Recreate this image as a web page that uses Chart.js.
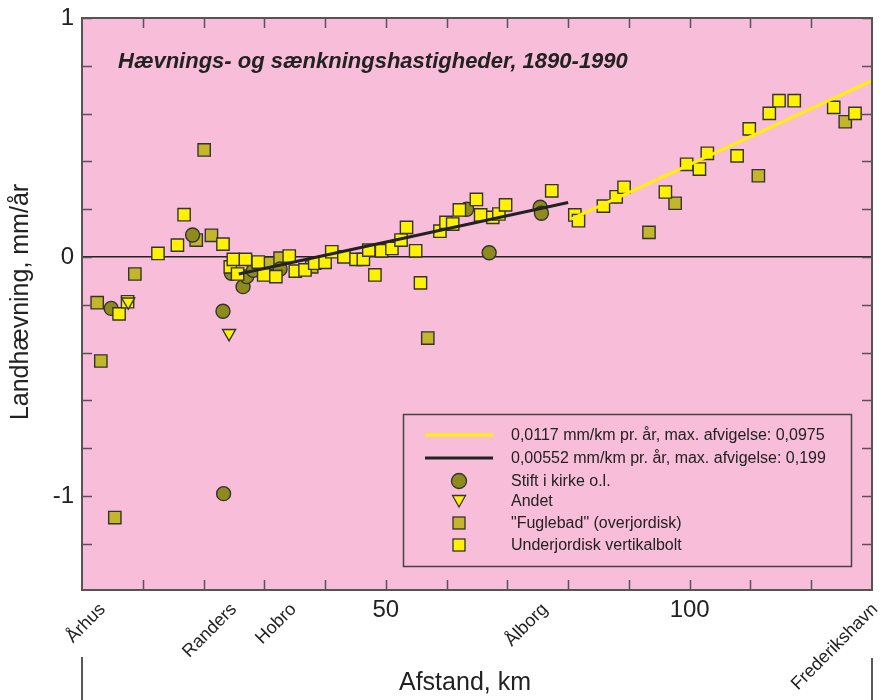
<!DOCTYPE html>
<html>
<head>
<meta charset="utf-8">
<script src="https://cdn.jsdelivr.net/npm/chart.js@4.4.0/dist/chart.umd.min.js"></script>
<style>
html,body{margin:0;padding:0;background:#ffffff;}
#wrap{width:883px;height:700px;}
</style>
</head>
<body>
<div id="wrap"><canvas id="c" width="883" height="700"></canvas></div>
<script>
// ---------------- DATA ----------------
// "Stift i kirke o.l." (circles)
const stiftKm   = [4.8, 18.2, 23.2, 23.3, 24.6, 26.5, 27.1, 28.2, 32.6, 63.3, 67.0, 75.4, 75.6];
const stiftRate = [-0.215, 0.092, -0.227, -0.99, -0.068, -0.124, -0.082, -0.056, -0.05, 0.20, 0.018, 0.208, 0.183];

// "Andet" (triangles)
const andetKm   = [7.6, 24.2];
const andetRate = [-0.187, -0.319];

// "Fuglebad" (overjordisk) (olive squares)
const fuglebadKm   = [2.5, 3.1, 5.4, 8.7, 18.8, 20.1, 21.3, 30.9, 32.6, 37.8, 56.9, 93.3, 97.6, 111.3, 125.6];
const fuglebadRate = [-0.191, -0.435, -1.09, -0.071, 0.071, 0.448, 0.091, -0.026, -0.005, -0.041, -0.339, 0.103, 0.225, 0.34, 0.566];

// Underjordisk vertikalbolt (yellow squares)
const boltKm = [6.1, 7.5, 12.5, 15.7, 16.8, 23.2, 24.4, 24.9, 25.6, 26.9, 29.0, 29.9, 31.9, 34.1, 35.1, 36.7,
  38.3, 40.0, 41.1, 43.1, 45.1, 46.3, 47.2, 48.2, 49.3, 51.0, 52.5, 53.4, 54.9, 55.7, 58.9, 59.9, 61.0, 62.1,
  64.9, 65.6, 67.6, 68.6, 69.7, 77.3, 81.1, 81.7, 85.8, 87.9, 89.2, 96.0, 99.5, 101.6, 102.9, 107.8, 109.8,
  113.1, 114.7, 117.2, 123.7, 127.2];
const boltRate = [-0.238, -0.187, 0.015, 0.05, 0.177, 0.054, -0.041, -0.01, -0.071, -0.01, -0.021, -0.075, -0.082, 0.004, -0.059, -0.054,
  -0.026, -0.022, 0.022, 0.001, -0.01, -0.01, 0.029, -0.075, 0.026, 0.036, 0.071, 0.124, 0.026, -0.108, 0.108, 0.145, 0.138, 0.197,
  0.241, 0.176, 0.166, 0.18, 0.218, 0.277, 0.176, 0.152, 0.213, 0.252, 0.292, 0.272, 0.388, 0.368, 0.434, 0.423, 0.536,
  0.601, 0.654, 0.654, 0.626, 0.601];

// Regression lines (end points)
const northLineKm   = [80.5, 130];
const northLineRate = [0.159, 0.738];
const southLineKm   = [25.8, 80.0];
const southLineRate = [-0.071, 0.228];

// Axis ticks / labels
const placeNames = ['Århus', 'Randers', 'Hobro', 'Ålborg', 'Frederikshavn'];
const placeKm    = [3.4, 25.0, 34.8, 76.2, 130.5];
const xTickKm    = [10, 20, 30, 40, 50, 60, 70, 80, 90, 100, 110, 120];
const xNumberLabels = [50, 100];
const yTickValues = [-1.2, -1.0, -0.8, -0.6, -0.4, -0.2, 0, 0.2, 0.4, 0.6, 0.8, 1.0];
const yLabelValues = [-1, 0, 1];
const yMin = -1.393, yMax = 1;

const titleText = 'Hævnings- og sænkningshastigheder, 1890-1990';
const xTitle = 'Afstand, km';
const yTitle = 'Landhævning, mm/år';
const legendLabels = [
  '0,0117 mm/km pr. år, max. afvigelse: 0,0975',
  '0,00552 mm/km pr. år, max. afvigelse: 0,199',
  'Stift i kirke o.l.',
  'Andet',
  '"Fuglebad" (overjordisk)',
  'Underjordisk vertikalbolt'
];

// ---------------- STYLE ----------------
const FONT = '"Liberation Sans", Arial, Helvetica, sans-serif';
const PINK = '#f8bdd8';
const OLIVE_DARK = '#8f8a1c';
const OLIVE = '#c4b62a';
const YELLOW = '#fff200';
const EDGE = '#333333';
const TXT = '#222222';

const pairs = (xs, ys) => xs.map((x, i) => ({x: x, y: ys[i]}));
const zeroPad = s => { s.paddingLeft = 0; s.paddingRight = 0; s.paddingTop = 0; s.paddingBottom = 0; };

const decor = {
  id: 'decor',
  beforeDraw(chart) {
    const {ctx, chartArea: a} = chart;
    ctx.save();
    ctx.fillStyle = PINK;
    ctx.fillRect(a.left, a.top, a.right - a.left, a.bottom - a.top);
    ctx.restore();
  },
  afterDatasetsDraw(chart) {
    const {ctx, chartArea: a} = chart;
    const xs = chart.scales.x, ys = chart.scales.y;
    ctx.save();
    // inward tick marks
    ctx.strokeStyle = '#555';
    ctx.lineWidth = 1.5;
    ctx.beginPath();
    xs.ticks.forEach(t => {
      const px = Math.round(xs.getPixelForValue(t.value)) + 0.5;
      ctx.moveTo(px, a.top); ctx.lineTo(px, a.top + 10);
      ctx.moveTo(px, a.bottom); ctx.lineTo(px, a.bottom - 10);
    });
    ys.ticks.forEach(t => {
      const py = Math.round(ys.getPixelForValue(t.value)) + 0.5;
      ctx.moveTo(a.left, py); ctx.lineTo(a.left + 10, py);
      ctx.moveTo(a.right, py); ctx.lineTo(a.right - 10, py);
    });
    ctx.stroke();
    // frame
    ctx.strokeStyle = '#555';
    ctx.lineWidth = 2;
    ctx.strokeRect(a.left, a.top, a.right - a.left, a.bottom - a.top);
    // small vertical lines below axis
    ctx.lineWidth = 1.5;
    ctx.strokeStyle = '#222';
    ctx.beginPath();
    ctx.moveTo(a.left, 657); ctx.lineTo(a.left, 700);
    ctx.moveTo(a.right, 658); ctx.lineTo(a.right, 700);
    ctx.stroke();

    // title
    ctx.fillStyle = TXT;
    ctx.font = 'italic bold 22px ' + FONT;
    ctx.textAlign = 'left';
    ctx.textBaseline = 'alphabetic';
    ctx.fillText(titleText, 118, 68);

    // axis titles
    ctx.font = '25px ' + FONT;
    ctx.textAlign = 'center';
    ctx.fillText(xTitle, 465, 690);
    ctx.save();
    ctx.translate(21, 302);
    ctx.rotate(-Math.PI / 2);
    ctx.textBaseline = 'middle';
    ctx.fillText(yTitle, 0, 0);
    ctx.restore();

    // legend
    const bx = 403.5, by = 414.5, bw = 448, bh = 152;
    ctx.strokeStyle = '#444';
    ctx.lineWidth = 1.5;
    ctx.strokeRect(bx, by, bw, bh);
    const rows = [435, 458, 481, 501, 523, 545];
    const mx = 459;
    ctx.lineWidth = 3;
    ctx.strokeStyle = YELLOW;
    ctx.beginPath(); ctx.moveTo(425, rows[0]); ctx.lineTo(493, rows[0]); ctx.stroke();
    ctx.strokeStyle = '#222';
    ctx.beginPath(); ctx.moveTo(425, rows[1]); ctx.lineTo(493, rows[1]); ctx.stroke();
    ctx.lineWidth = 1.3;
    ctx.strokeStyle = EDGE;
    ctx.fillStyle = OLIVE_DARK;
    ctx.beginPath(); ctx.arc(mx, rows[2], 7.5, 0, Math.PI * 2); ctx.fill(); ctx.stroke();
    ctx.fillStyle = YELLOW;
    ctx.beginPath();
    ctx.moveTo(mx - 6.5, rows[3] - 5.5); ctx.lineTo(mx + 6.5, rows[3] - 5.5); ctx.lineTo(mx, rows[3] + 6);
    ctx.closePath(); ctx.fill(); ctx.stroke();
    ctx.fillStyle = OLIVE;
    ctx.fillRect(mx - 6, rows[4] - 6, 12, 12); ctx.strokeRect(mx - 6, rows[4] - 6, 12, 12);
    ctx.fillStyle = YELLOW;
    ctx.fillRect(mx - 6, rows[5] - 6, 12, 12); ctx.strokeRect(mx - 6, rows[5] - 6, 12, 12);
    ctx.fillStyle = TXT;
    ctx.font = '16px ' + FONT;
    ctx.textAlign = 'left';
    ctx.textBaseline = 'middle';
    legendLabels.forEach((s, i) => ctx.fillText(s, 511, rows[i] + 1));
    ctx.restore();
  }
};

const ptCommon = {borderColor: EDGE, borderWidth: 1.4, showLine: false, pointHoverRadius: 8};

new Chart(document.getElementById('c'), {
  type: 'scatter',
  data: {
    datasets: [
      {type: 'line', label: legendLabels[0], data: pairs(northLineKm, northLineRate), borderColor: YELLOW,
       borderWidth: 3, pointRadius: 0, fill: false, order: 0},
      {type: 'line', label: legendLabels[1], data: pairs(southLineKm, southLineRate), borderColor: '#222',
       borderWidth: 3, pointRadius: 0, fill: false, order: 0},
      Object.assign({label: legendLabels[3], data: pairs(andetKm, andetRate), pointStyle: 'triangle',
       pointRotation: 180, pointRadius: 7.5, backgroundColor: YELLOW, order: 1}, ptCommon),
      Object.assign({label: legendLabels[5], data: pairs(boltKm, boltRate), pointStyle: 'rect',
       pointRadius: 8.7, backgroundColor: YELLOW, order: 2}, ptCommon),
      Object.assign({label: legendLabels[2], data: pairs(stiftKm, stiftRate), pointStyle: 'circle',
       pointRadius: 7, backgroundColor: OLIVE_DARK, order: 3}, ptCommon),
      Object.assign({label: legendLabels[4], data: pairs(fuglebadKm, fuglebadRate), pointStyle: 'rect',
       pointRadius: 8.7, backgroundColor: OLIVE, order: 4}, ptCommon)
    ]
  },
  options: {
    responsive: false,
    animation: false,
    devicePixelRatio: 1,
    layout: {padding: {top: 18, right: 11, left: 0, bottom: 110}},
    plugins: {legend: {display: false}, tooltip: {enabled: false}, title: {display: false}},
    scales: {
      x: {
        type: 'linear', axis: 'x', position: {y: yMin}, min: 0, max: 130,
        afterBuildTicks: s => { s.ticks = xTickKm.map(v => ({value: v})); },
        afterFit: s => { s.height = 0; zeroPad(s); },
        ticks: {autoSkip: false, minRotation: 0, maxRotation: 0, padding: 6, color: TXT,
                font: {family: FONT, size: 24},
                callback: v => xNumberLabels.includes(v) ? String(v) : ''},
        grid: {display: false, drawTicks: false},
        border: {display: false}
      },
      xn: {
        type: 'linear', axis: 'x', position: {y: yMin}, min: 0, max: 130,
        afterBuildTicks: s => { s.ticks = placeKm.map(v => ({value: v})); },
        afterFit: s => { s.height = 0; zeroPad(s); },
        ticks: {autoSkip: false, minRotation: 45, maxRotation: 45, padding: 9, color: TXT,
                font: {family: FONT, size: 18},
                callback: (v, i) => placeNames[i]},
        grid: {display: false, drawTicks: false},
        border: {display: false}
      },
      y: {
        type: 'linear', position: 'left', min: yMin, max: yMax,
        afterBuildTicks: s => { s.ticks = yTickValues.map(v => ({value: v})); },
        afterFit: s => { s.width = 82; zeroPad(s); },
        ticks: {autoSkip: false, padding: 8, color: TXT, font: {family: FONT, size: 24},
                callback: v => yLabelValues.some(l => Math.abs(l - v) < 1e-9) ? String(Math.round(v)) : ''},
        grid: {drawTicks: false, lineWidth: 1.5,
               color: c => (c.tick && Math.abs(c.tick.value) < 1e-9) ? '#222' : 'rgba(0,0,0,0)'},
        border: {display: false}
      }
    }
  },
  plugins: [decor]
});
</script>
</body>
</html>
